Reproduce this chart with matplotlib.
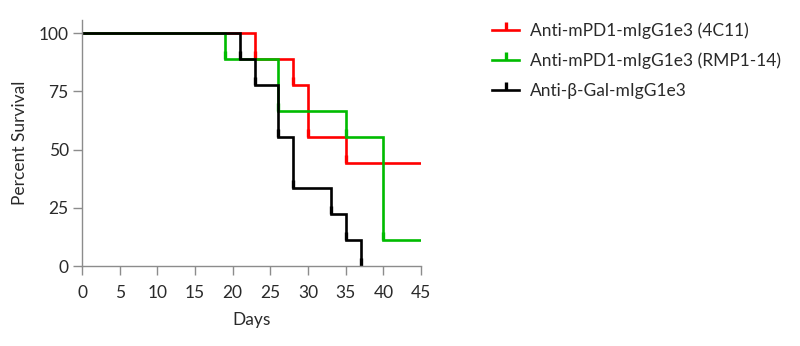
import matplotlib
matplotlib.use('Agg')
import matplotlib.pyplot as plt
from matplotlib.lines import Line2D

plt.rcParams['font.family'] = ['Lato', 'DejaVu Sans']

# survival data (percent), 9 mice per group
days_4c11 = [0, 23, 28, 30, 35, 45]
surv_4c11 = [100, 88.9, 77.8, 55.6, 44.4, 44.4]
days_rmp = [0, 19, 26, 35, 40, 45]
surv_rmp = [100, 88.9, 66.7, 55.6, 11.1, 11.1]
days_gal = [0, 21, 23, 26, 28, 33, 35, 37]
surv_gal = [100, 88.9, 77.8, 55.6, 33.3, 22.2, 11.1, 0]

labels = ['Anti-mPD1-mIgG1e3 (4C11)', 'Anti-mPD1-mIgG1e3 (RMP1-14)',
          'Anti-\u03b2-Gal-mIgG1e3']
colors = ['#ff0000', '#00bb00', '#000000']
x_ticks = [0, 5, 10, 15, 20, 25, 30, 35, 40, 45]
y_ticks = [0, 25, 50, 75, 100]

fig = plt.figure(figsize=(8, 3.46), dpi=100)
ax = fig.add_axes([0.1025, 0.231, 0.4238, 0.711])

groups = [(days_4c11, surv_4c11), (days_rmp, surv_rmp), (days_gal, surv_gal)]
for (d, s), c in zip(groups, colors):
    ax.step(d, s, where='post', color=c, lw=1.9, solid_joinstyle='miter')
    # tick marks at each drop
    xd = [d[i] for i in range(1, len(d)) if s[i] < s[i - 1]]
    yd = [s[i] for i in range(1, len(d)) if s[i] < s[i - 1]]
    ax.plot(xd, yd, ls='none', marker=2, color=c, markersize=6, mew=2.4)

ax.set_xlim(0, 45)
ax.set_ylim(0, 105.6)
ax.set_xticks(x_ticks)
ax.set_yticks(y_ticks)
for sp in ['top', 'right']:
    ax.spines[sp].set_visible(False)
for sp in ['left', 'bottom']:
    ax.spines[sp].set_color('#8c8c8c')
    ax.spines[sp].set_linewidth(1)
ax.tick_params(colors='#8c8c8c', labelcolor='#2a2a2a', length=6.5, width=1,
               labelsize=12.5)
ax.tick_params(axis='x', pad=7)
ax.tick_params(axis='y', pad=3)
ax.set_xlabel('Days', fontsize=12.5, color='#2a2a2a', labelpad=8)
ax.set_ylabel('Percent Survival', fontsize=12.5, color='#2a2a2a', labelpad=8)

handles = [Line2D([0], [0], color=c, lw=1.9, marker=2, markersize=6, mew=2.4)
           for c in colors]
fig.legend(handles, labels, loc='upper left', bbox_to_anchor=(0.595, 0.98),
           frameon=False, fontsize=12.5, handlelength=1.6, labelspacing=0.78,
           handletextpad=0.6, labelcolor='#2a2a2a')

plt.savefig('out.png', dpi=100)
